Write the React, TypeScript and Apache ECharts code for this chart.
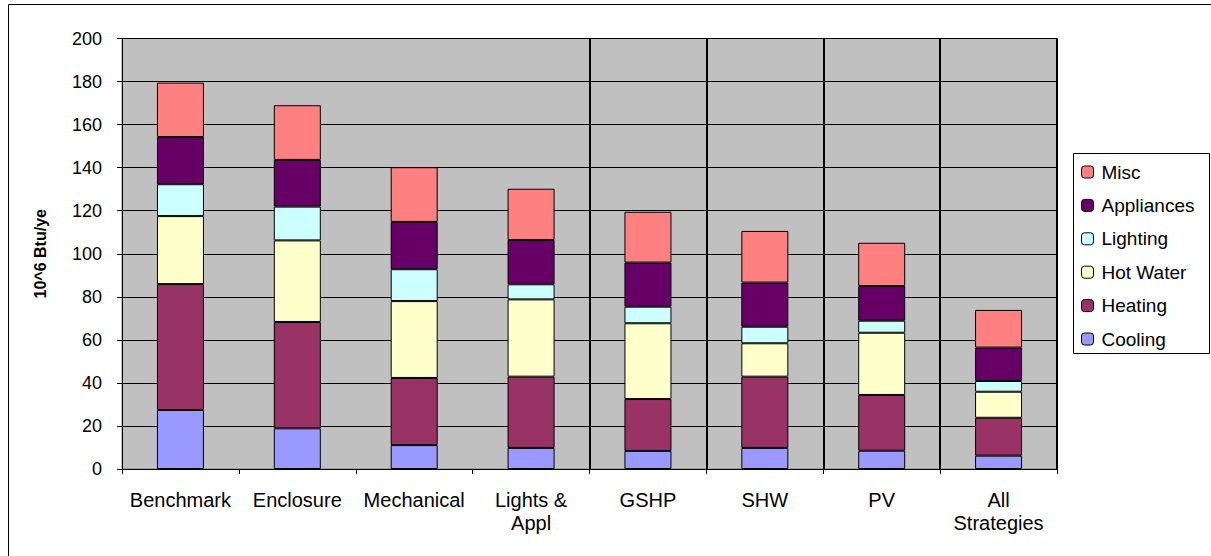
import React, { useEffect, useRef } from "react";
import * as echarts from "echarts";

const categories = ["Benchmark", "Enclosure", "Mechanical", "Lights &\nAppl", "GSHP", "SHW", "PV", "All\nStrategies"];
const cooling = [27.4, 18.9, 11.1, 9.8, 8.4, 9.8, 8.5, 6.2];
const heating = [58.5, 49.4, 31.2, 33.1, 24.1, 33.1, 25.9, 17.6];
const hotWater = [31.6, 37.9, 35.7, 35.9, 35.2, 15.5, 28.9, 12.1];
const lighting = [14.8, 15.7, 14.8, 7.0, 7.7, 7.7, 5.6, 5.0];
const appliances = [21.9, 21.7, 22.0, 20.6, 20.5, 20.5, 16.1, 15.5];
const misc = [25.3, 25.4, 25.4, 23.8, 23.6, 24.0, 20.1, 17.5];
const yTicks = { min: 0, max: 200, interval: 20 };
const yTitle = "10^6 Btu/ye";

const seriesDefs = [
  { name: "Cooling", data: cooling, color: "#9999FF" },
  { name: "Heating", data: heating, color: "#993366" },
  { name: "Hot Water", data: hotWater, color: "#FFFFCC" },
  { name: "Lighting", data: lighting, color: "#CCFFFF" },
  { name: "Appliances", data: appliances, color: "#660066" },
  { name: "Misc", data: misc, color: "#FF8080" },
];

const FONT = "'Liberation Sans', Arial, sans-serif";

export default function App() {
  const ref = useRef<HTMLDivElement>(null);
  useEffect(() => {
    if (!ref.current) return;
    const chart = echarts.init(ref.current, null, { renderer: "svg" });
    chart.setOption({
      animation: false,
      backgroundColor: "#FFFFFF",
      textStyle: { fontFamily: FONT, color: "#000" },
      grid: {
        left: 122,
        top: 38.5,
        width: 935,
        height: 430.5,
        show: true,
        backgroundColor: "#C0C0C0",
        borderColor: "#808080",
        borderWidth: 1,
      },
      legend: {
        orient: "vertical",
        left: 1081,
        top: 162,
        padding: 0,
        itemWidth: 12,
        itemHeight: 12,
        itemGap: 13.4,
        data: ["Misc", "Appliances", "Lighting", "Hot Water", "Heating", "Cooling"],
        textStyle: { fontFamily: FONT, fontSize: 19, color: "#000", lineHeight: 20, padding: [0, 0, 0, 3] },
        itemStyle: { borderColor: "#000", borderWidth: 1 },
      },
      graphic: [
        {
          type: "rect",
          shape: { x: 8.5, y: 4.5, width: 1300, height: 700 },
          style: { fill: "none", stroke: "#000", lineWidth: 1 },
          silent: true,
          z: -10,
        },
        {
          type: "rect",
          shape: { x: 1073.5, y: 153.5, width: 136, height: 200 },
          style: { fill: "#fff", stroke: "#000", lineWidth: 1 },
          silent: true,
          z: -1,
        },
      ],
      xAxis: {
        type: "category",
        data: categories,
        boundaryGap: true,
        axisLine: { show: true, lineStyle: { color: "#000", width: 1 } },
        axisTick: { show: true, length: 5, lineStyle: { color: "#000" } },
        axisLabel: {
          interval: 0,
          margin: 19,
          fontFamily: FONT,
          fontSize: 20,
          lineHeight: 23,
          color: "#000",
        },
        splitLine: {
          show: true,
          interval: (index: number) => index >= 4 && index <= 7,
          lineStyle: { color: "#000", width: 2 },
        },
      },
      yAxis: {
        type: "value",
        min: yTicks.min,
        max: yTicks.max,
        interval: yTicks.interval,
        name: yTitle,
        nameLocation: "middle",
        nameGap: 74,
        nameRotate: 90,
        nameTextStyle: { fontFamily: FONT, fontSize: 16, fontWeight: "bold", color: "#000" },
        axisLine: { show: true, lineStyle: { color: "#000", width: 1 } },
        axisTick: { show: true, length: 5, lineStyle: { color: "#000" } },
        axisLabel: { margin: 20, fontFamily: FONT, fontSize: 18, color: "#000" },
        splitLine: { show: true, lineStyle: { color: "#000", width: 1 } },
      },
      series: seriesDefs.map((s) => ({
        name: s.name,
        type: "bar",
        stack: "total",
        barWidth: 47,
        data: s.data,
        itemStyle: { color: s.color, borderColor: "#000", borderWidth: 1 },
        emphasis: { disabled: true },
      })),
    });
    return () => chart.dispose();
  }, []);
  return <div ref={ref} style={{ position: "absolute", left: 0, top: 0, width: 1211, height: 556 }} />;
}
